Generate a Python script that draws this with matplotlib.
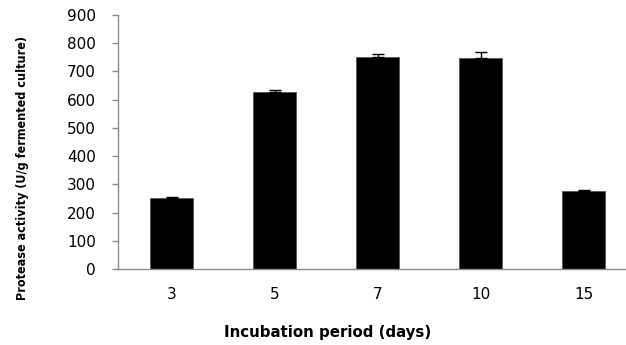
import matplotlib
matplotlib.use("Agg")
import matplotlib.pyplot as plt

days = ["3", "5", "7", "10", "15"]
activity = [252, 626, 752, 749, 275]
err = [3, 8, 9, 20, 5]

fig = plt.figure(figsize=(6.26, 3.45), dpi=100)
ax = fig.add_axes([118 / 626, 76 / 345, 507 / 626, 254 / 345])

x = range(len(days))
ax.bar(x, activity, width=0.42, color="black", edgecolor="#555555", linewidth=0.6,
       yerr=[[0] * len(err), err], error_kw=dict(ecolor="black", elinewidth=1.0, capsize=4, capthick=1.0))

ax.set_ylim(0, 900)
ax.set_xlim(-0.52, 4.4)
ax.set_yticks(range(0, 901, 100))
ax.set_xticks(list(x))
ax.set_xticklabels(days)

for s in ["top", "right"]:
    ax.spines[s].set_visible(False)
for s in ["left", "bottom"]:
    ax.spines[s].set_color("#8c8c8c")
    ax.spines[s].set_linewidth(1.0)

ax.tick_params(axis="y", direction="out", length=4, width=1, color="#8c8c8c", pad=12, labelsize=11)
ax.tick_params(axis="x", length=0, pad=13, labelsize=11)

fig.text(23 / 626, 1 - 168 / 345, "Protease activity (U/g fermented culture)", rotation=90,
         ha="center", va="center", fontsize=9, fontweight="bold",
         family=["Liberation Sans Narrow", "DejaVu Sans"], fontstretch="condensed")
fig.text(328 / 626, 13 / 345, "Incubation period (days)", ha="center", va="center",
         fontsize=10.8, fontweight="bold")

fig.savefig("out.png", dpi=100)
